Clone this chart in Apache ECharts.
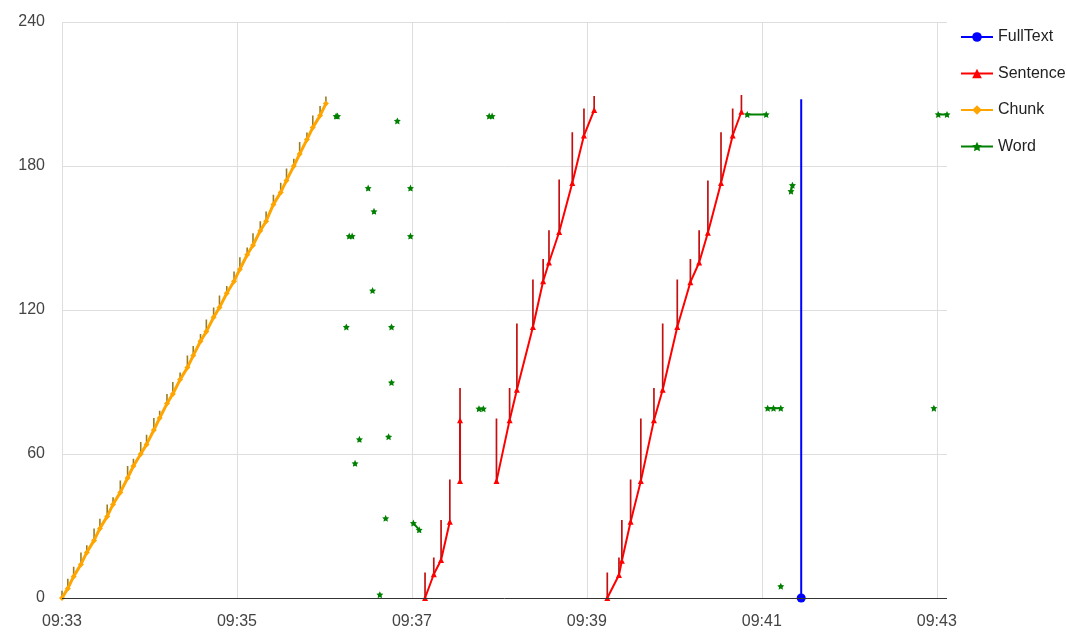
<!DOCTYPE html>
<html>
<head>
<meta charset="utf-8">
<script src="https://cdn.jsdelivr.net/npm/echarts@6/dist/echarts.min.js"></script>
<style>
  html, body { margin: 0; padding: 0; background: #fff; }
  #chart { width: 1067px; height: 637px; }
</style>
</head>
<body>
<div id="chart"></div>
<script>
// time axis ticks (every 2 minutes)
const xTicks = ['09:33', '09:35', '09:37', '09:39', '09:41', '09:43'];
const yTicks = [0, 60, 120, 180, 240];

// [time, base, spike top]; null = gap in the line
const sentence = [
  ['09:37:09', 0, 10.6], ['09:37:15', 9.9, 16.9], ['09:37:20', 15.8, 32.5], ['09:37:26', 31.8, 49.4],
  null,
  ['09:37:33', 48.7, 87.5], ['09:37:33', 74.1, 74.1],
  null,
  ['09:37:58', 48.7, 74.8], ['09:38:07', 74.1, 87.5], ['09:38:12', 86.8, 114.4], ['09:38:23', 112.9, 132.7],
  ['09:38:30', 132, 141.2], ['09:38:34', 139.8, 153.2], ['09:38:41', 152.5, 174.4], ['09:38:50', 172.9, 194.1],
  ['09:38:58', 192.7, 204], ['09:39:05', 203.3, 209.2],
  null,
  ['09:39:14', 0, 10.6], ['09:39:22', 9.6, 16.9], ['09:39:24', 15.5, 32.5], ['09:39:30', 31.8, 49.4],
  ['09:39:37', 48.7, 74.8], ['09:39:46', 74.1, 87.5], ['09:39:52', 86.8, 114.4], ['09:40:02', 112.9, 132.7],
  ['09:40:11', 131.6, 141.2], ['09:40:17', 139.8, 153.2], ['09:40:23', 152.2, 174], ['09:40:32', 172.9, 194.1],
  ['09:40:40', 192.7, 204], ['09:40:46', 202.6, 209.6]
];

const chunk = [
  ['09:33:00', 0, 3], ['09:33:04', 4, 8], ['09:33:08', 9, 13], ['09:33:13', 14, 19], ['09:33:17', 19, 22],
  ['09:33:22', 24, 29], ['09:33:26', 29, 33], ['09:33:31', 34, 39], ['09:33:35', 39, 42], ['09:33:40', 44, 49],
  ['09:33:45', 50, 55], ['09:33:49', 55, 58], ['09:33:54', 60, 65], ['09:33:58', 64, 68], ['09:34:03', 70, 75],
  ['09:34:07', 75, 78], ['09:34:12', 81, 85], ['09:34:16', 85, 90], ['09:34:21', 91, 94], ['09:34:26', 96, 101],
  ['09:34:30', 101, 105], ['09:34:35', 107, 110], ['09:34:39', 111, 116], ['09:34:44', 117, 121], ['09:34:48', 121, 126],
  ['09:34:53', 127, 130], ['09:34:58', 132, 136], ['09:35:02', 137, 142], ['09:35:07', 143, 146], ['09:35:11', 147, 152],
  ['09:35:16', 153, 157], ['09:35:20', 157, 161], ['09:35:25', 164, 168], ['09:35:30', 169, 173], ['09:35:34', 174, 179],
  ['09:35:39', 180, 183], ['09:35:43', 185, 190], ['09:35:48', 191, 194], ['09:35:52', 196, 201], ['09:35:57', 201, 205],
  ['09:36:01', 206, 209]
];

const fullText = [['09:41:27', 0], ['09:41:27', 207.8]];

// [time, value]; null = gap
const word = [
  ['09:36:08', 200.8], ['09:36:09', 200.8], null,
  ['09:36:15', 112.9], null,
  ['09:36:17', 150.8], ['09:36:19', 150.8], null,
  ['09:36:21', 56.1], null,
  ['09:36:24', 66.1], null,
  ['09:36:30', 170.8], null,
  ['09:36:33', 128.1], null,
  ['09:36:34', 161.1], null,
  ['09:36:38', 1.4], null,
  ['09:36:42', 33.2], null,
  ['09:36:44', 67.2], null,
  ['09:36:46', 112.9], null,
  ['09:36:46', 89.8], null,
  ['09:36:50', 198.8], null,
  ['09:36:59', 170.8], null,
  ['09:36:59', 150.8], null,
  ['09:37:01', 31.2], ['09:37:05', 28.4], null,
  ['09:37:46', 78.9], ['09:37:49', 78.9], null,
  ['09:37:53', 200.8], ['09:37:55', 200.8], null,
  ['09:40:50', 201.5], ['09:41:03', 201.5], null,
  ['09:41:04', 79.1], ['09:41:08', 79.1], ['09:41:13', 79.1], null,
  ['09:41:13', 4.9], null,
  ['09:41:20', 169.5], ['09:41:21', 172], null,
  ['09:42:58', 79.1], null,
  ['09:43:01', 201.5], ['09:43:07', 201.5]
];

const T0 = 9 * 3600 + 33 * 60;
function sec(s) {
  const p = s.split(':').map(Number);
  return p[0] * 3600 + p[1] * 60 + (p[2] || 0) - T0;
}
function fmt(v) {
  const t = T0 + v;
  const h = Math.floor(t / 3600), m = Math.floor((t % 3600) / 60);
  return String(h).padStart(2, '0') + ':' + String(m).padStart(2, '0');
}

// the line through the base points
function bases(rows) {
  return rows.map(r => r ? [sec(r[0]), r[1]] : '-');
}
// vertical spike from each base up to its top
function tops(rows) {
  const out = [];
  rows.forEach(r => {
    if (r && r[2] !== r[1]) out.push([sec(r[0]), r[1]], [sec(r[0]), r[2]], '-');
  });
  return out;
}
function points(rows) {
  return rows.map(r => r ? [sec(r[0]), r[1]] : '-');
}

const star = 'path://M0,-10L2.9,-4L9.5,-3.1L4.8,1.5L5.9,8.1L0,5L-5.9,8.1L-4.8,1.5L-9.5,-3.1L-2.9,-4Z';
const tickSecs = xTicks.map(sec);

const chart = echarts.init(document.getElementById('chart'));
chart.setOption({
  animation: false,
  textStyle: { fontFamily: 'Liberation Sans, Arial, sans-serif' },
  grid: { left: 62, right: 120, top: 22, bottom: 39 },
  legend: {
    orient: 'vertical',
    left: 955,
    top: 24,
    itemWidth: 32,
    itemHeight: 12,
    itemGap: 20.5,
    textStyle: { fontSize: 16, color: '#222' },
    data: ['FullText', 'Sentence', 'Chunk', 'Word']
  },
  xAxis: {
    type: 'value',
    min: 0,
    max: sec('09:43:07'),
    interval: 120,
    axisLine: { show: false },
    axisTick: { show: false },
    splitLine: { show: true, showMaxLine: false, lineStyle: { color: '#dedede' } },
    axisLabel: {
      fontSize: 16,
      color: '#444',
      margin: 16,
      showMaxLabel: false,
      formatter: v => tickSecs.indexOf(v) >= 0 ? fmt(v) : ''
    }
  },
  yAxis: {
    type: 'value',
    min: yTicks[0],
    max: yTicks[yTicks.length - 1],
    interval: 60,
    axisLine: { show: false },
    axisTick: { show: false },
    splitLine: { lineStyle: { color: '#dedede' } },
    axisLabel: { fontSize: 16, color: '#444', margin: 17 }
  },
  series: [
    {
      name: 'FullText',
      type: 'line',
      color: '#0000ff',
      symbol: 'circle',
      symbolSize: 9,
      lineStyle: { width: 2 },
      data: points(fullText).map((d, i) => i === 0 ? { value: d } : { value: d, symbol: 'none' }),
      z: 4
    },
    {
      name: 'Sentence',
      type: 'line',
      color: '#ff0000',
      symbol: 'triangle',
      symbolSize: 6,
      lineStyle: { width: 2 },
      connectNulls: false,
      data: bases(sentence),
      z: 3
    },
    {
      type: 'line',
      color: '#c41010',
      symbol: 'none',
      silent: true,
      lineStyle: { width: 1.7 },
      connectNulls: false,
      data: tops(sentence),
      z: 3
    },
    {
      name: 'Chunk',
      type: 'line',
      color: '#ffa500',
      symbol: 'diamond',
      symbolSize: 6,
      lineStyle: { width: 3 },
      connectNulls: false,
      data: bases(chunk),
      z: 2
    },
    {
      type: 'line',
      color: '#9c7c20',
      symbol: 'none',
      silent: true,
      lineStyle: { width: 1.6 },
      connectNulls: false,
      data: tops(chunk),
      z: 1
    },
    {
      name: 'Word',
      type: 'line',
      color: '#008000',
      symbol: star,
      symbolSize: 7,
      lineStyle: { width: 2 },
      connectNulls: false,
      data: points(word),
      z: 5
    },
    {
      // x axis baseline
      type: 'line',
      silent: true,
      data: [],
      markLine: {
        symbol: 'none',
        silent: true,
        label: { show: false },
        lineStyle: { color: '#333', width: 1, type: 'solid' },
        data: [{ yAxis: 0 }]
      }
    }
  ]
});
</script>
</body>
</html>
